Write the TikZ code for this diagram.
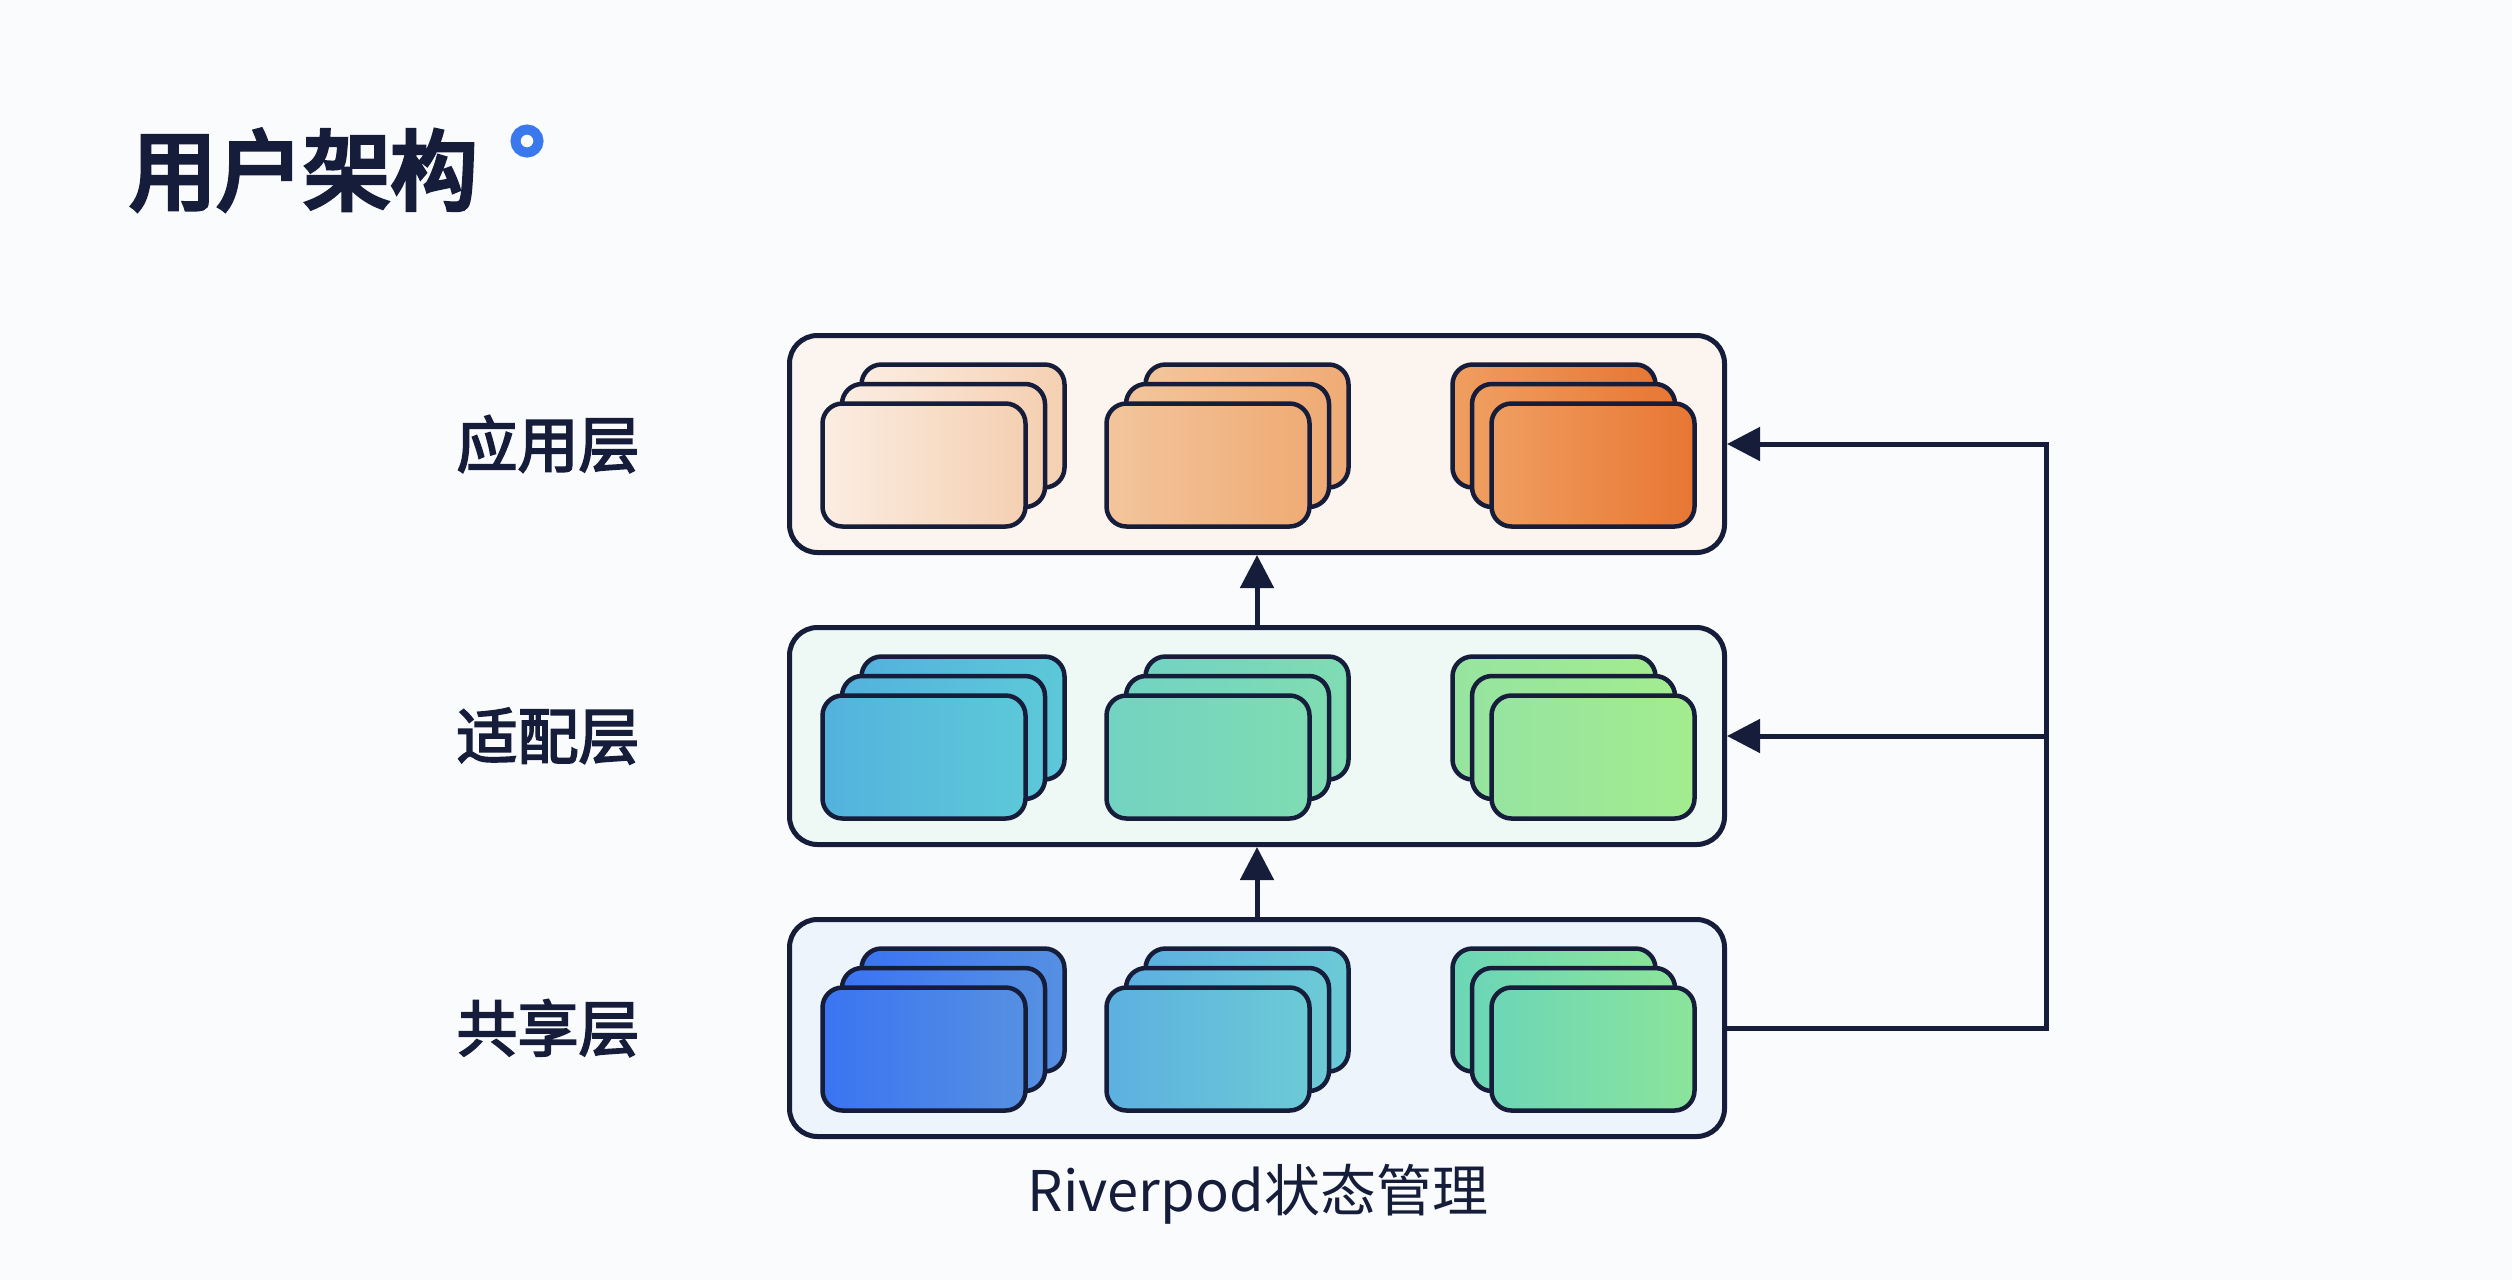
\documentclass[tikz,border=0pt]{standalone}
\usepackage{fontspec}
\usepackage{tikz}
\usetikzlibrary{arrows.meta}
\setmainfont{Noto Sans CJK SC}
\newfontfamily\cjkmedium[FakeBold=3]{Noto Sans CJK SC}
\newfontfamily\cjkheavy[FakeBold=5]{Noto Sans CJK SC}

\definecolor{ink}{HTML}{151D3A}
\definecolor{bgcol}{HTML}{FAFBFD}
\definecolor{ringblue}{HTML}{3A78EE}
% layer fills
\definecolor{appfill}{HTML}{FCF4EE}
\definecolor{adaptfill}{HTML}{EEF9F6}
\definecolor{sharedfill}{HTML}{EDF4FB}
% card shades, left and right
\definecolor{appAl}{HTML}{FBEDE2}    \definecolor{appAr}{HTML}{F5D0B2}
\definecolor{appBl}{HTML}{F3C59D}    \definecolor{appBr}{HTML}{EFAB75}
\definecolor{appCl}{HTML}{EF9E60}    \definecolor{appCr}{HTML}{E87633}
\definecolor{adaptAl}{HTML}{54B2DD}  \definecolor{adaptAr}{HTML}{5CC8D8}
\definecolor{adaptBl}{HTML}{72D3C2}  \definecolor{adaptBr}{HTML}{7FDCB2}
\definecolor{adaptCl}{HTML}{96E4A0}  \definecolor{adaptCr}{HTML}{A3EC8F}
\definecolor{sharedAl}{HTML}{3A74F2} \definecolor{sharedAr}{HTML}{5690E2}
\definecolor{sharedBl}{HTML}{5CB0E0} \definecolor{sharedBr}{HTML}{6CCAD6}
\definecolor{sharedCl}{HTML}{6CD6B6} \definecolor{sharedCr}{HTML}{8BE49A}

\tikzset{
  layer/.style={draw=ink, line width=5bp, rounded corners=28bp,
                minimum width=935bp, minimum height=217bp},
  card/.style={draw=ink, line width=4.5bp, rounded corners=20bp,
               minimum width=203bp, minimum height=123bp},
  tag/.style={text=ink, font=\fontsize{61bp}{66bp}\selectfont\cjkmedium},
  link/.style={draw=ink, line width=5bp},
}

% name, x, y, direction of the stack
\newcommand{\cardstack}[4]{%
  \foreach \k in {2,1,0}
    \node (#1\k) at (#2+#4*\k*19.5, #3-\k*19.5) [card, left color=#1l, right color=#1r] {};
}

\begin{document}
\begin{tikzpicture}[x=1bp, y=-1bp, >={Triangle[length=33bp,width=33bp]}]
	\fill[bgcol] (0,0) rectangle (2512,1280);
	\useasboundingbox (0,0) rectangle (2512,1280);

	% title
	\node (title) at (126,170) [anchor=west, text=ink, font=\fontsize{87bp}{92bp}\selectfont\cjkheavy] {用户架构};
	\node (dot)   at (527,141) [circle, draw=ringblue, line width=10bp, minimum size=23bp, inner sep=0pt] {};

	% layers
	\node (app)    at (1257,444) [layer, fill=appfill]    {};
	\node (adapt)  at (1257,736) [layer, fill=adaptfill]  {};
	\node (shared) at (1257,1028) [layer, fill=sharedfill] {};

	\node (apptag)    at (548,444)  [tag] {应用层};
	\node (adapttag)  at (548,736)  [tag] {适配层};
	\node (sharedtag) at (548,1028) [tag] {共享层};

	% cards
	\cardstack{appA}{924}{465}{1}
	\cardstack{appB}{1208}{465}{1}
	\cardstack{appC}{1593}{465}{-1}

	\cardstack{adaptA}{924}{757}{1}
	\cardstack{adaptB}{1208}{757}{1}
	\cardstack{adaptC}{1593}{757}{-1}

	\cardstack{sharedA}{924}{1049}{1}
	\cardstack{sharedB}{1208}{1049}{1}
	\cardstack{sharedC}{1593}{1049}{-1}

	% connectors
	\coordinate (bus) at (2046,0);
	\draw [link,->] (adapt.north)  -- (app.south);
	\draw [link,->] (shared.north) -- (adapt.south);
	\draw [link,->] (shared.east) -- (shared.east -| bus) |- (app.east);
	\draw [link,->] (adapt.east -| bus) -- (adapt.east);

	\node (caption) at (1258,1194) [text=ink, font=\fontsize{56bp}{60bp}\selectfont] {Riverpod状态管理};
\end{tikzpicture}
\end{document}
